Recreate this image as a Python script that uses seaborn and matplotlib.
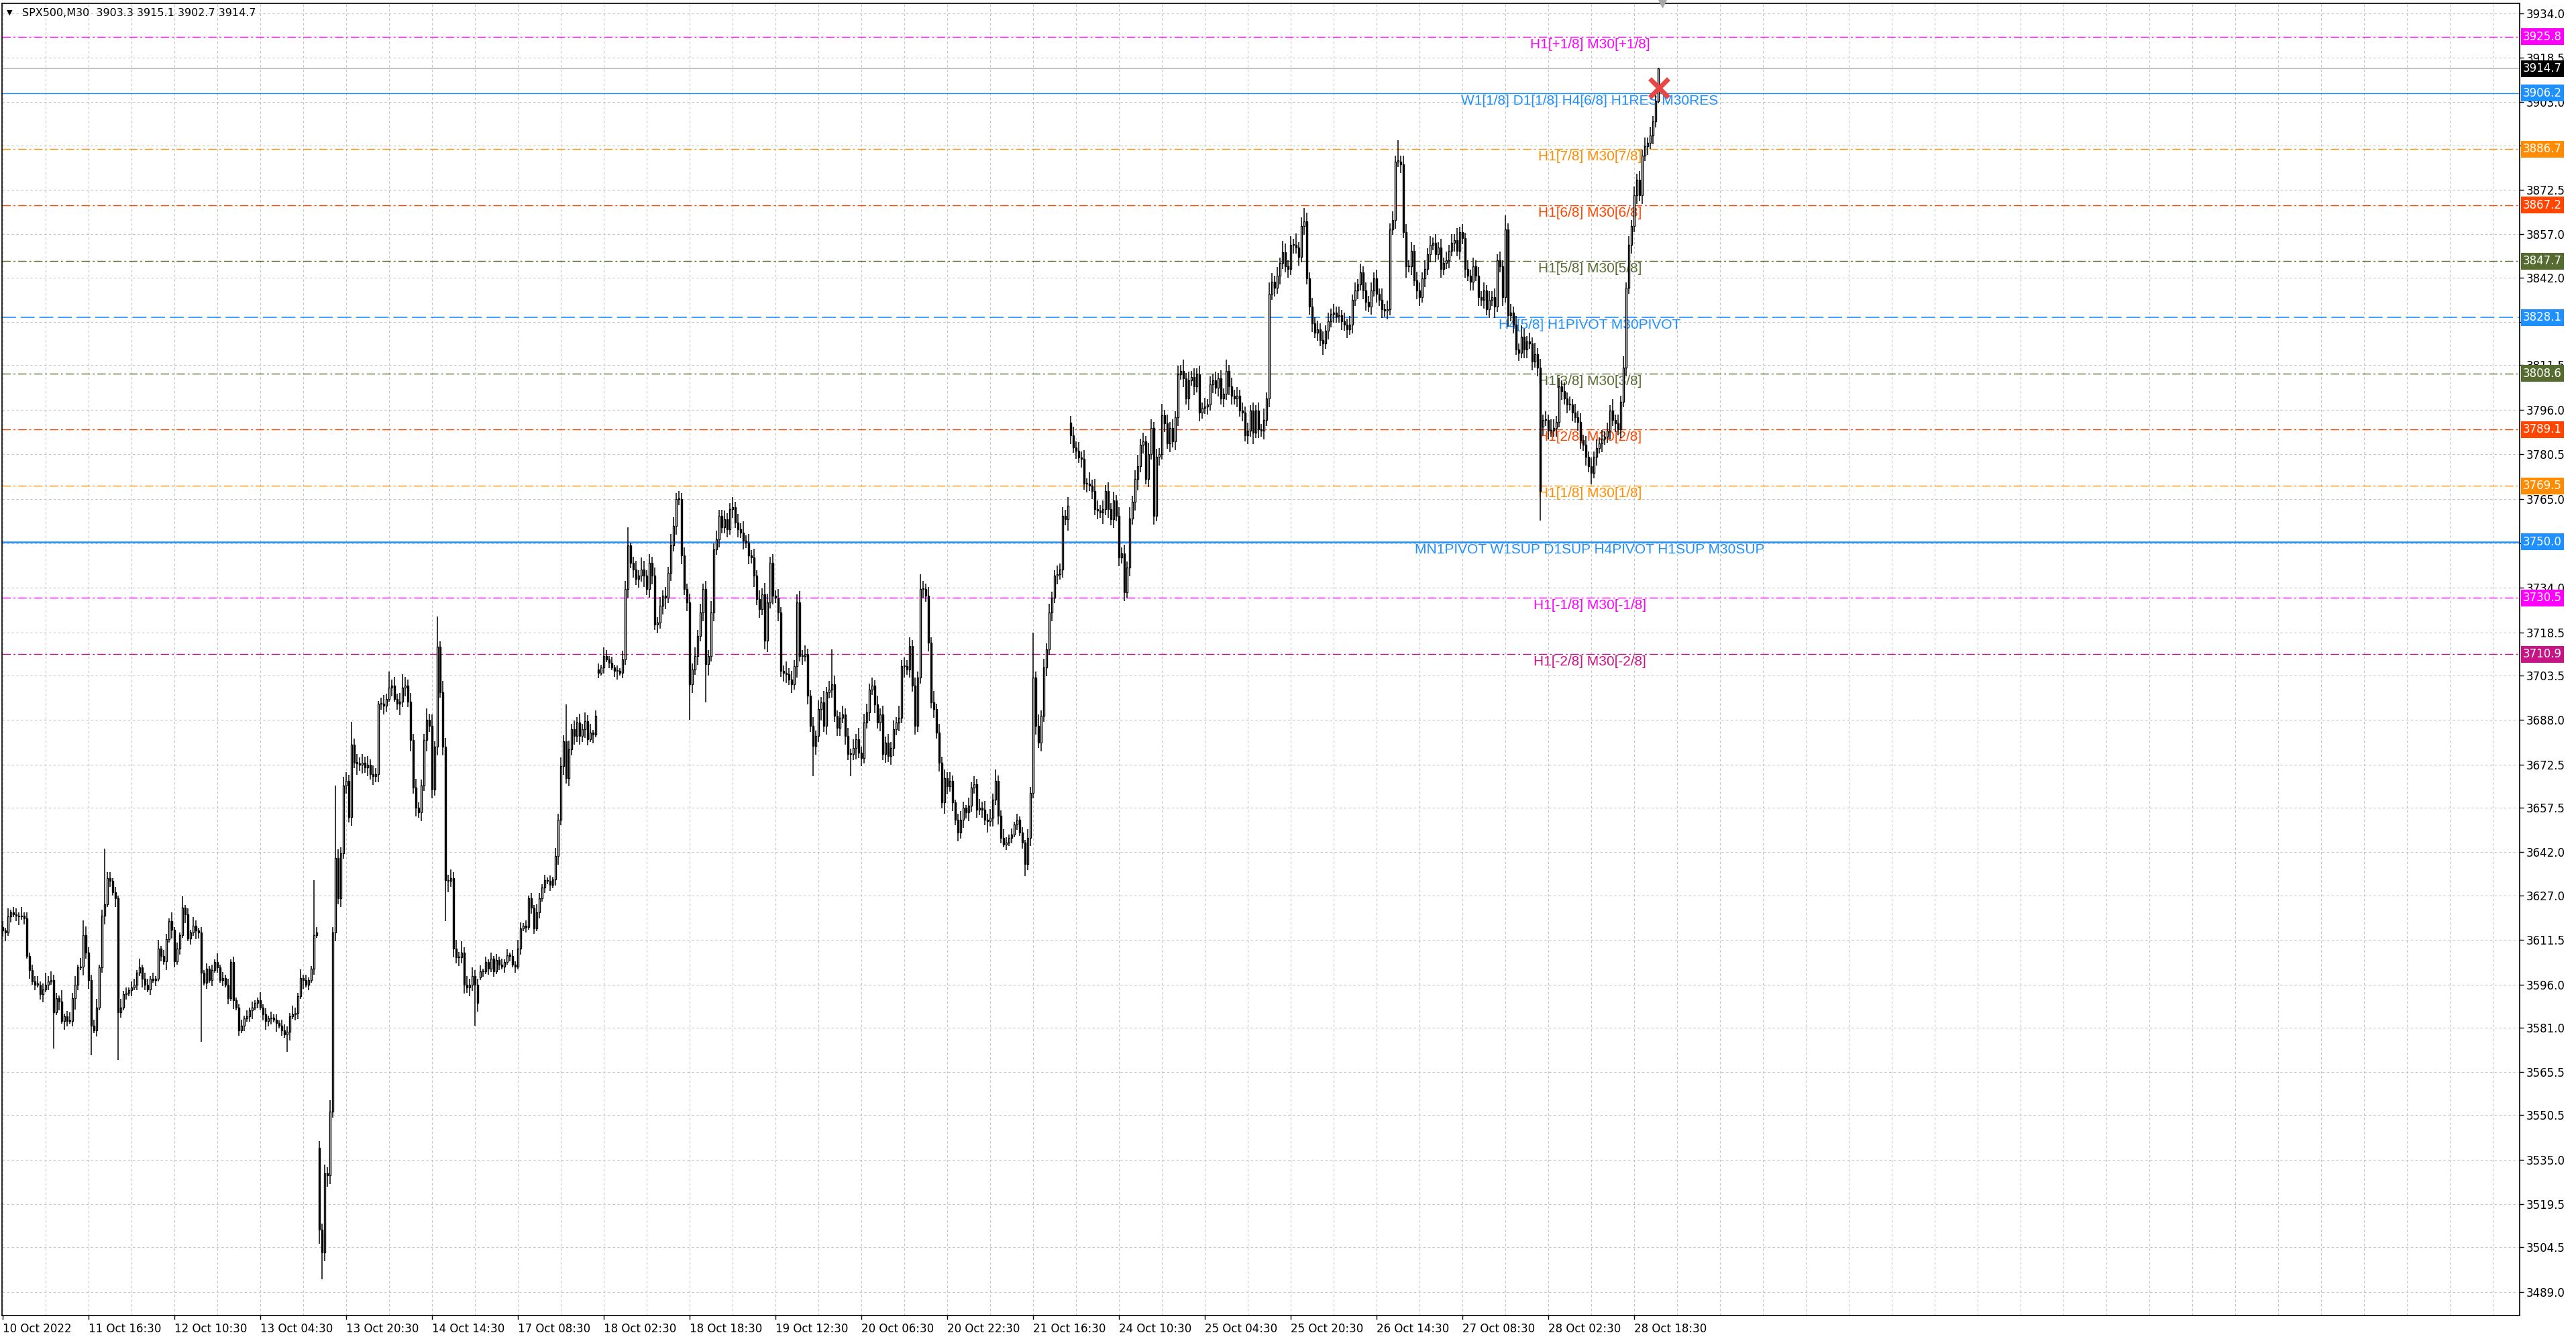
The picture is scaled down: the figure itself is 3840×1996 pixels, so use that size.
import matplotlib
matplotlib.use("Agg")
import matplotlib.pyplot as plt
import matplotlib.transforms as mtransforms
import seaborn as sns

# SPX500 M30 closes
close = [
    # 10 Oct - 13 Oct (before CPI)
    3614.8, 3614.0, 3619.6, 3621.0, 3620.4, 3620.0, 3619.6, 3620.0, 3619.0, 3606.0,
    3601.0, 3597.0, 3596.0, 3596.0, 3592.7, 3594.3, 3596.0, 3597.0, 3597.5, 3586.4,
    3591.2, 3590.0, 3583.3, 3584.8, 3583.3, 3583.3, 3591.2, 3596.0, 3602.0, 3602.2,
    3613.2, 3607.0, 3597.5, 3581.7, 3580.0, 3588.0, 3602.0, 3620.0, 3624.0, 3633.0,
    3632.0, 3628.0, 3626.0, 3586.4, 3588.0, 3592.7, 3593.0, 3594.0, 3595.0, 3596.0,
    3600.0, 3602.0, 3598.0, 3596.0, 3594.3, 3598.0, 3597.5, 3598.0, 3608.5, 3606.0,
    3604.0, 3611.7, 3618.0, 3615.0, 3604.0, 3608.5, 3613.2, 3622.7, 3620.4, 3612.0,
    3614.0, 3616.4, 3614.8, 3614.0, 3600.0, 3596.6, 3601.4, 3597.5, 3601.0, 3603.8,
    3602.0, 3597.5, 3598.3, 3596.0, 3591.2, 3603.8, 3590.4, 3588.0, 3580.1, 3581.7,
    3584.1, 3585.0, 3587.0, 3588.0, 3589.6, 3590.4, 3588.0, 3585.6, 3583.3, 3584.1,
    3584.5, 3583.7, 3582.5, 3581.7, 3580.1, 3578.5, 3579.5, 3585.0, 3585.6, 3586.0,
    3592.0, 3598.3, 3597.5, 3596.0, 3597.5, 3601.4, 3613.2, 3614.0,
    # 13 Oct CPI - 14 Oct close
    3510.7, 3502.8, 3530.4, 3529.6, 3551.7, 3614.0, 3640.1, 3625.9, 3641.7, 3665.3,
    3666.9, 3654.3, 3679.5, 3673.2, 3673.0, 3672.4, 3673.2, 3671.6, 3672.4, 3669.3,
    3668.5, 3669.3, 3693.7, 3693.7, 3693.0, 3695.3, 3699.3, 3700.1, 3695.3, 3693.7,
    3694.5, 3699.3, 3700.1, 3694.5, 3681.1, 3664.5, 3657.4, 3655.9, 3665.3, 3681.1,
    3688.2, 3685.9, 3663.8, 3678.7, 3713.5, 3697.7, 3678.7, 3632.2, 3632.0, 3633.0,
    3608.5, 3605.4, 3605.4, 3607.0, 3595.9, 3595.0, 3595.9, 3599.0, 3595.9, 3589.6,
    # 17 Oct
    3600.6, 3600.6, 3603.8, 3601.4, 3605.0, 3600.6, 3604.6, 3603.0, 3602.2, 3603.8,
    3606.2, 3606.0, 3603.0, 3602.2, 3608.5, 3615.6, 3616.4, 3616.0, 3625.9, 3622.7,
    3615.6, 3621.0, 3625.9, 3629.8, 3632.2, 3632.0, 3630.6, 3632.5, 3640.6, 3653.4,
    3672.0, 3680.7, 3667.9, 3677.8, 3684.8, 3682.4, 3687.1, 3682.4, 3684.8, 3687.7,
    3681.3, 3683.6, 3683.0, 3689.4,
    # 18 Oct - 24 Oct
    3704.5, 3706.3, 3710.3, 3709.2, 3708.0, 3706.3, 3705.1, 3705.1, 3704.5, 3709.2,
    3733.5, 3748.7, 3742.8, 3740.5, 3737.0, 3738.2, 3740.5, 3738.2, 3733.5, 3742.8,
    3738.2, 3721.3, 3721.9, 3727.7, 3731.2, 3730.6, 3739.3, 3748.7, 3755.6, 3764.9,
    3764.9, 3745.2, 3733.5, 3728.9, 3700.5, 3705.7, 3710.3, 3717.3, 3725.4, 3733.5,
    3707.4, 3710.3, 3725.4, 3747.5, 3751.0, 3759.1, 3755.0, 3757.9, 3754.5, 3761.4,
    3762.0, 3756.8, 3754.5, 3753.3, 3750.4, 3749.8, 3745.2, 3744.6, 3738.2, 3730.1,
    3726.6, 3731.8, 3715.6, 3728.9, 3742.8, 3731.2, 3730.6, 3725.4, 3705.1, 3704.5,
    3704.0, 3702.2, 3700.5, 3706.8, 3728.9, 3710.3, 3710.3, 3710.9, 3696.4, 3686.0,
    3679.0, 3682.4, 3691.8, 3694.1, 3686.0, 3697.6, 3698.7, 3700.5, 3689.4, 3685.4,
    3688.9, 3690.0, 3682.4, 3676.1, 3676.1, 3678.4, 3681.3, 3676.7, 3674.9, 3687.1,
    3690.6, 3698.7, 3699.9, 3693.5, 3687.1, 3690.0, 3676.1, 3680.2, 3675.5, 3678.4,
    3684.8, 3687.1, 3688.9, 3706.8, 3706.8, 3705.7, 3713.8, 3699.9, 3686.0, 3702.8,
    3733.5, 3733.5, 3731.2, 3714.9, 3694.1, 3691.8, 3683.6, 3673.2, 3659.3, 3667.9,
    3665.1, 3666.8, 3659.3, 3653.4, 3648.8, 3653.4, 3657.5, 3655.8, 3658.1, 3664.5,
    3665.6, 3656.9, 3657.5, 3656.9, 3653.4, 3652.9, 3654.0, 3660.4, 3666.8, 3654.6,
    3647.1, 3644.7, 3645.3, 3647.1, 3648.2, 3651.7, 3653.4, 3648.8, 3645.3, 3637.8,
    3647.1, 3662.7, 3702.8, 3686.0, 3680.2, 3689.4, 3706.3, 3712.7, 3725.4, 3730.6,
    3738.2, 3738.8, 3740.5, 3759.1, 3757.9, 3762.6,
    # 25 Oct - 28 Oct
    3787.0, 3782.9, 3781.8, 3779.4, 3778.9, 3770.2, 3770.2, 3769.6, 3767.8, 3761.4,
    3760.9, 3760.3, 3761.4, 3767.8, 3761.4, 3757.9, 3764.4, 3759.1, 3744.6, 3746.0,
    3732.4, 3741.1, 3758.1, 3764.0, 3772.0, 3776.3, 3783.8, 3784.9, 3772.0, 3780.6,
    3789.7, 3759.1, 3779.5, 3780.6, 3794.0, 3791.3, 3784.3, 3789.7, 3784.9, 3793.4,
    3808.4, 3809.5, 3806.8, 3799.9, 3806.3, 3807.4, 3804.1, 3808.4, 3795.0, 3796.6,
    3797.2, 3797.7, 3804.7, 3806.3, 3803.6, 3806.8, 3799.9, 3801.5, 3809.5, 3804.1,
    3800.9, 3799.9, 3800.9, 3795.6, 3795.0, 3787.0, 3788.6, 3795.6, 3788.1, 3795.6,
    3789.1, 3788.6, 3792.4, 3799.9, 3836.3, 3840.6, 3838.4, 3842.7, 3847.0, 3850.8,
    3845.9, 3844.9, 3853.4, 3853.4, 3852.4, 3849.2, 3859.9, 3861.5, 3841.7, 3832.0,
    3826.1, 3822.9, 3824.0, 3820.2, 3819.1, 3823.4, 3826.7, 3829.3, 3829.9, 3828.3,
    3828.8, 3826.7, 3825.6, 3824.0, 3825.6, 3834.2, 3837.4, 3839.5, 3843.8, 3837.4,
    3833.6, 3832.0, 3837.4, 3841.7, 3836.3, 3834.2, 3830.9, 3830.4, 3830.9, 3858.8,
    3862.0, 3882.4, 3882.4, 3881.3, 3857.7, 3845.9, 3845.9, 3851.3, 3841.1, 3837.4,
    3835.2, 3841.7, 3844.9, 3850.2, 3853.4, 3854.0, 3850.2, 3852.4, 3844.9, 3847.0,
    3848.1, 3851.3, 3854.0, 3855.1, 3851.3, 3857.7, 3855.6, 3844.9, 3842.7, 3840.6,
    3845.9, 3842.7, 3835.2, 3834.2, 3837.4, 3830.9, 3834.2, 3835.2, 3832.0, 3848.1,
    3845.9, 3835.2, 3858.8, 3828.8, 3829.9, 3825.6, 3817.0, 3815.9, 3821.3, 3817.0,
    3819.7, 3819.1, 3812.7, 3815.4, 3810.6, 3767.7, 3792.4, 3792.4, 3788.6, 3788.6,
    3789.7, 3791.8, 3804.1, 3802.5, 3799.9, 3797.7, 3797.7, 3795.0, 3793.4, 3791.8,
    3785.4, 3783.8, 3779.5, 3776.3, 3774.1, 3779.5, 3782.7, 3784.3, 3785.9, 3786.5,
    3788.6, 3795.6, 3792.4, 3791.3, 3789.1, 3798.8, 3810.6, 3838.4, 3853.4, 3859.9,
    3870.6, 3876.0, 3870.6, 3884.5, 3887.7, 3888.8, 3891.5, 3896.3, 3903.3, 3914.7,
]
first_open = 3616.0
# bars that open away from the previous close (session gaps)
gap_open = {118: 3539.1, 178: 3598.5, 222: 3705.7, 398: 3791.6, 574: 3790.0}

# wick lengths in points, one digit per bar
wick_up = "".join([
    "2131221312", "1223124232", "2141232313", "5322231212", "2121312122", "1312212131",
    "2213121412", "1321212121", "3121212112", "1212113121", "2121222132", "13121142",
    "3232424323", "3242323232", "3212321232", "3132323222", "3242324323", "2324232322",
    "2121212121", "2121321212", "1321212132", "3243232323", "2312",
    "2132121213", "3212324323", "2323232432", "3232323232", "3242322322", "3232423232",
    "3243232322", "4232342322", "3232423232", "2323232423", "3232323232", "3242323232",
    "2323242323", "2321232132", "3232323242", "2321212121", "3232423232", "232323",
    "2323232424", "3232323232", "3242342324", "3232423232", "3242323232", "3232323242",
    "3232323232", "3242432324", "3232423232", "3232323232", "3232323232", "3232324232",
    "3242332323", "3232323232", "3232423232", "3232323232", "3242323243", "2324232324",
    "3232323232", "3232323232", "3242324232", "3232323232",
])
wick_dn = "".join([
    "2312123121", "3121231212", "1313212421", "3232121231", "2131212121", "2132121212",
    "1313212131", "2132312121", "2121213121", "2123121232", "2131211312", "21312121",
    "5434323232", "3232423232", "3232321312", "4232423232", "4232323242", "3232323243",
    "1212121212", "1212121212", "2121212123", "2323232323", "2131",
    "2121212312", "2323232423", "3232342323", "2323232323", "2423232232", "3232323242",
    "3234232323", "3232423232", "2324232323", "3232324232", "2323232323", "3232423232",
    "2323232324", "3232323232", "2323242323", "2121212121", "2323232323", "232324",
    "3232323232", "3242323232", "3232342323", "2323232323", "3232423232", "2323232323",
    "3232323242", "3232323232", "2323232323", "3232423232", "2323232323", "3232323232",
    "2323242323", "3232323232", "2323232323", "3232323242", "2324232323", "3232323232",
    "2323232323", "3232423232", "2323232323", "2323232320",
])
# long wicks read individually
high_fix = {38: 3643.2, 116: 3632.2, 118: 3541.4, 124: 3665.3, 130: 3687.4, 144: 3704.8,
            149: 3704.0, 158: 3692.0, 162: 3724.0, 210: 3693.5, 233: 3755.0, 252: 3767.8,
            272: 3765.5, 296: 3731.8, 309: 3712.6, 342: 3738.8, 384: 3718.4, 398: 3793.9,
            485: 3866.3, 520: 3889.7, 560: 3863.6, 617: 3915.1}
low_fix = {19: 3573.8, 33: 3571.4, 43: 3569.8, 74: 3576.1, 106: 3572.5, 119: 3493.3,
           165: 3618.0, 176: 3581.7, 256: 3688.2, 262: 3694.1, 284: 3712.6, 302: 3668.5,
           316: 3668.5, 381: 3633.7, 573: 3757.5, 617: 3902.7}

date_labels = ["10 Oct 2022", "11 Oct 16:30", "12 Oct 10:30", "13 Oct 04:30", "13 Oct 20:30",
               "14 Oct 14:30", "17 Oct 08:30", "18 Oct 02:30", "18 Oct 18:30", "19 Oct 12:30",
               "20 Oct 06:30", "20 Oct 22:30", "21 Oct 16:30", "24 Oct 10:30", "25 Oct 04:30",
               "25 Oct 20:30", "26 Oct 14:30", "27 Oct 08:30", "28 Oct 02:30", "28 Oct 18:30"]
price_ticks = [3934.0, 3918.5, 3903.0, 3888.0, 3872.5, 3857.0, 3842.0, 3826.5, 3811.5, 3796.0,
               3780.5, 3765.0, 3749.5, 3734.0, 3718.5, 3703.5, 3688.0, 3672.5, 3657.5, 3642.0,
               3627.0, 3611.5, 3596.0, 3581.0, 3565.5, 3550.5, 3535.0, 3519.5, 3504.5, 3489.0]
# grid rows whose scale label sits fully under a level box
hidden_ticks = [3826.5, 3749.5]

# Murrey math / pivot levels
level_price = [3925.8, 3906.2, 3886.7, 3867.2, 3847.7, 3828.1, 3808.6, 3789.1, 3769.5,
               3750.0, 3730.5, 3710.9]
level_text = ["H1[+1/8] M30[+1/8]", "W1[1/8] D1[1/8] H4[6/8] H1RES M30RES",
              "H1[7/8] M30[7/8]", "H1[6/8] M30[6/8]", "H1[5/8] M30[5/8]",
              "H4[5/8] H1PIVOT M30PIVOT", "H1[3/8] M30[3/8]", "H1[2/8] M30[2/8]",
              "H1[1/8] M30[1/8]", "MN1PIVOT W1SUP D1SUP H4PIVOT H1SUP M30SUP",
              "H1[-1/8] M30[-1/8]", "H1[-2/8] M30[-2/8]"]
level_color = ["#FF00FF", "#1E90FF", "#FF8C00", "#FF4500", "#556B2F", "#1E90FF",
               "#556B2F", "#FF4500", "#FF8C00", "#1E90FF", "#FF00FF", "#C71585"]
level_kind = ["dashdot", "solid", "dashdot", "dashdot", "dashdot", "dashed",
              "dashdot", "dashdot", "dashdot", "thick", "dashdot", "dashdot"]
bid = 3914.7
header = "SPX500,M30  3903.3 3915.1 3902.7 3914.7"

sns.set_theme(style="white")
plt.rcParams["font.family"] = ["DejaVu Sans"]
plt.rcParams["lines.scale_dashes"] = False

styles = {"dashdot": ((0, (9, 3, 2, 3)), 1.0), "solid": ("-", 1.0),
          "dashed": ((0, (15, 5)), 1.2), "thick": ("-", 1.8)}

# build OHLC
opens, highs, lows = [], [], []
prev = first_open
for i, c in enumerate(close):
    o = gap_open.get(i, prev)
    up = int(wick_up[min(i, len(wick_up) - 1)])
    dn = int(wick_dn[min(i, len(wick_dn) - 1)])
    opens.append(o)
    highs.append(max(high_fix.get(i, max(o, c) + up), o, c))
    lows.append(min(low_fix.get(i, min(o, c) - dn), o, c))
    prev = c
bars = list(range(len(close)))

fig = plt.figure(figsize=(38.4, 19.96), dpi=100)
ax = fig.add_axes([3 / 3840, 35 / 1996, 3753 / 3840, 1956.4 / 1996])
ax.set_facecolor("white")
ax.set_xlim(-0.25, 938)
ax.set_ylim(3480.8, 3937.5)

# grid
for v in price_ticks:
    ax.axhline(v, color="#C4C4C4", lw=0.8, ls=(0, (2.5, 2.5)), zorder=0)
for b in range(0, 938, 16):
    ax.axvline(b, color="#C4C4C4", lw=0.8, ls=(0, (2.5, 2.5)), zorder=0)

# levels
for p, t, col, kind in zip(level_price, level_text, level_color, level_kind):
    ls, lw = styles[kind]
    ax.axhline(p, color=col, lw=lw, ls=ls, zorder=1)
    ax.text(591.5, p - 0.5, t, color=col, fontsize=15, family="Liberation Sans",
            ha="center", va="top", zorder=2)
ax.axhline(bid, color="#B0B0B0", lw=1.1, zorder=1)

# candles
ax.vlines(bars, lows, highs, color="black", lw=1.1, zorder=3)
for is_bull, face in ((True, "white"), (False, "black")):
    xs = [b for b in bars if (close[b] >= opens[b]) == is_bull]
    ax.bar(xs, [max(abs(close[b] - opens[b]), 0.3) for b in xs],
           bottom=[min(close[b], opens[b]) for b in xs], width=0.64,
           color=face, edgecolor="black", linewidth=1.0, zorder=4)

# last price cross
ax.plot([617.3], [3907.9], marker="x", ms=20, mew=5, color="#E84545", zorder=6)
ax.plot([618.5], [3937.5], marker="v", ms=9, color="#A8A8A8", clip_on=False, zorder=6)

# axes
for s in ax.spines.values():
    s.set_color("black")
    s.set_linewidth(1.2)
ax.yaxis.tick_right()
ax.set_yticks(price_ticks)
ax.set_yticklabels(["" if v in hidden_ticks else f"{v:.1f}" for v in price_ticks])
ax.set_xticks(list(range(0, 32 * len(date_labels), 32)))
ax.set_xticklabels(date_labels)
for lab in ax.get_xticklabels():
    lab.set_horizontalalignment("left")
ax.tick_params(axis="y", length=4, width=1, pad=3, labelsize=12, colors="black",
               direction="out", right=True, left=False)
ax.tick_params(axis="x", length=4, width=1, pad=4, labelsize=12, colors="black",
               direction="out", bottom=True)

# price boxes on the right scale
trans = mtransforms.blended_transform_factory(ax.transAxes, ax.transData)
box_prices = level_price + [bid]
box_colors = level_color + ["#000000"]
for p, col in zip(box_prices, box_colors):
    ax.text(1.0013, p, f"{p:.1f}", transform=trans, ha="left", va="center", color="white",
            fontsize=12, clip_on=False, zorder=7,
            bbox=dict(boxstyle="square,pad=0.2", fc=col, ec="none"))

fig.text(10 / 3840, 1 - 19 / 1996, "\u25bc", fontsize=8, va="center", color="black")
fig.text(33 / 3840, 1 - 19 / 1996, header, fontsize=11.5, va="center", color="black")

fig.savefig("out.png", dpi=100, facecolor="white")
